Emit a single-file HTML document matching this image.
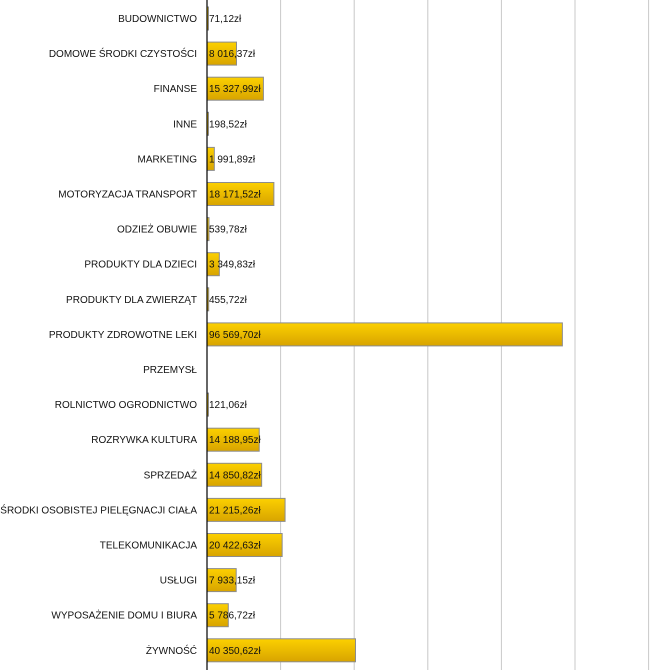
<!DOCTYPE html>
<html><head><meta charset="utf-8"><style>
html,body{margin:0;padding:0;background:#fff;}
svg{display:block;font-family:"Liberation Sans",Arial,sans-serif;}
</style></head><body>
<svg id="chart" width="650" height="670">
<defs><linearGradient id="g" x1="0" y1="0" x2="0" y2="1">
<stop offset="0" stop-color="#fcd000"/><stop offset="1" stop-color="#d8a400"/></linearGradient></defs>
</svg>
<script>
const cats=["BUDOWNICTWO","DOMOWE ŚRODKI CZYSTOŚCI","FINANSE","INNE","MARKETING","MOTORYZACJA TRANSPORT","ODZIEŻ OBUWIE","PRODUKTY DLA DZIECI","PRODUKTY DLA ZWIERZĄT","PRODUKTY ZDROWOTNE LEKI","PRZEMYSŁ","ROLNICTWO OGRODNICTWO","ROZRYWKA KULTURA","SPRZEDAŻ","ŚRODKI OSOBISTEJ PIELĘGNACJI CIAŁA","TELEKOMUNIKACJA","USŁUGI","WYPOSAŻENIE DOMU I BIURA","ŻYWNOŚĆ"];
const vals=[71.12,8016.37,15327.99,198.52,1991.89,18171.52,539.78,3349.83,455.72,96569.70,null,121.06,14188.95,14850.82,21215.26,20422.63,7933.15,5786.72,40350.62];
const ticks=[20000,40000,60000,80000,100000,120000];
const svg=document.getElementById('chart');const NS='http://www.w3.org/2000/svg';
const x0=207,pxPer=73.6/20000;
const x=v=>x0+v*pxPer;
const rowY=i=>18+i*35.1;
function mk(t,a){const e=document.createElementNS(NS,t);for(const k in a)e.setAttribute(k,a[k]);svg.appendChild(e);return e;}
function fmt(v){let [i,d]=v.toFixed(2).split('.');i=i.replace(/\B(?=(\d{3})+(?!\d))/g,' ');return i+','+d+'zł';}
ticks.forEach(t=>{const l=mk('line',{x1:x(t),x2:x(t),y1:0,y2:670,stroke:'#c8c8c8','stroke-width':1});

});
cats.forEach((c,i)=>{const y=rowY(i);
const t=mk('text',{x:197,y:y+4,'text-anchor':'end','font-size':'10',fill:'#111'});t.textContent=c;


const v=vals[i];if(v==null)return;
const w=Math.max(x(v)-x0,1.5);
const r=mk('rect',{x:x0,y:y-11,width:w,height:23,fill:'url(#g)',stroke:'#8c8c8c','stroke-width':1});


const vt=mk('text',{x:x0+2,y:y+4,'font-size':'10',fill:'#111'});vt.textContent=fmt(v);

});
const ax=mk('line',{x1:x0,x2:x0,y1:0,y2:670,stroke:'#000','stroke-width':1.2});


</script>
</body></html>
